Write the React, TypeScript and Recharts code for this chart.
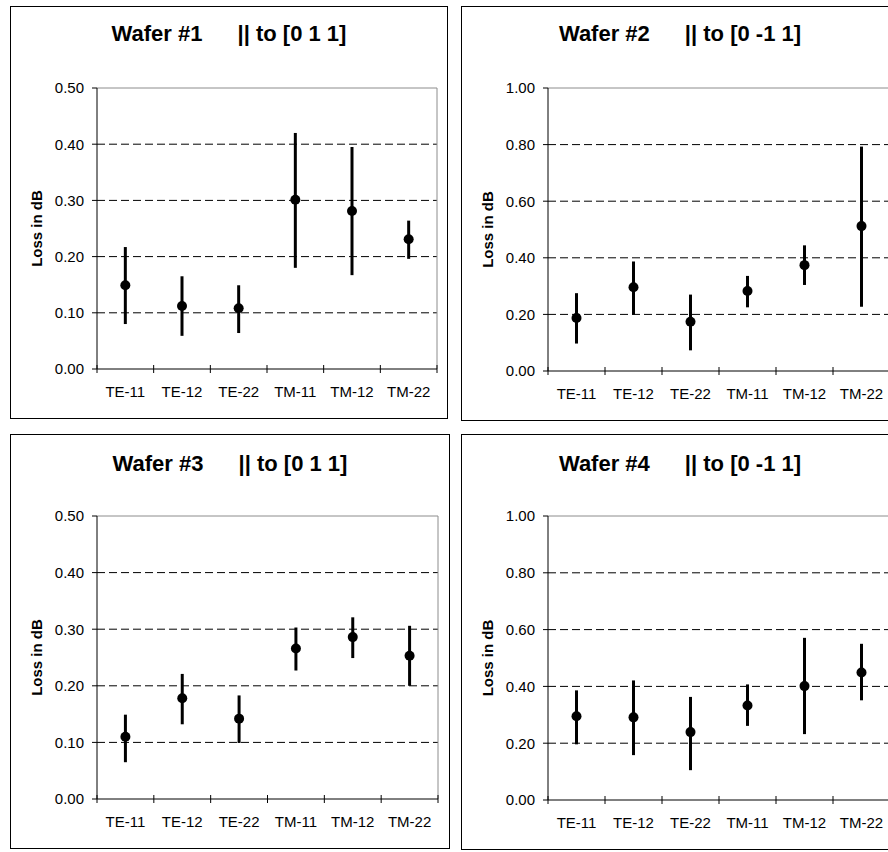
import React from 'react';
import {
  CartesianGrid,
  ErrorBar,
  Label,
  ReferenceLine,
  Scatter,
  ScatterChart,
  XAxis,
  YAxis,
} from 'recharts';

const categories = ['TE-11', 'TE-12', 'TE-22', 'TM-11', 'TM-12', 'TM-22'];

const waferNames = ['Wafer #1', 'Wafer #2', 'Wafer #3', 'Wafer #4'];
const orientations = ['|| to [0 1 1]', '|| to [0 -1 1]', '|| to [0 1 1]', '|| to [0 -1 1]'];

const wafer1Mean = [0.149, 0.112, 0.108, 0.301, 0.281, 0.231];
const wafer1Low = [0.08, 0.059, 0.064, 0.18, 0.167, 0.196];
const wafer1High = [0.217, 0.165, 0.149, 0.42, 0.395, 0.264];

const wafer2Mean = [0.187, 0.296, 0.174, 0.283, 0.374, 0.512];
const wafer2Low = [0.097, 0.199, 0.073, 0.225, 0.304, 0.227];
const wafer2High = [0.275, 0.387, 0.27, 0.336, 0.444, 0.793];

const wafer3Mean = [0.11, 0.178, 0.142, 0.266, 0.286, 0.253];
const wafer3Low = [0.065, 0.132, 0.099, 0.227, 0.249, 0.2];
const wafer3High = [0.149, 0.221, 0.183, 0.303, 0.321, 0.306];

const wafer4Mean = [0.295, 0.291, 0.239, 0.333, 0.401, 0.449];
const wafer4Low = [0.196, 0.158, 0.105, 0.261, 0.232, 0.351];
const wafer4High = [0.386, 0.421, 0.363, 0.407, 0.571, 0.55];

const yTicksSmall = [0, 0.1, 0.2, 0.3, 0.4, 0.5];
const yTicksLarge = [0, 0.2, 0.4, 0.6, 0.8, 1.0];

const FONT = "'Liberation Sans', Arial, Helvetica, sans-serif";
const N = categories.length;

// boundaries get a tick mark, half positions carry the category name
const xTicks = categories.flatMap((_, i) => [i, i + 0.5]).concat(N);

function CatTick(props: any) {
  const { x, y, payload } = props;
  const v = payload.value as number;
  if (Number.isInteger(v)) {
    return <line x1={x} x2={x} y1={y - 4} y2={y + 4} stroke="#000" strokeWidth={1} />;
  }
  return (
    <text x={x} y={y + 28} textAnchor="middle" fontSize={15} fontFamily={FONT} fill="#000">
      {categories[Math.floor(v)]}
    </text>
  );
}

function YLabel(props: any) {
  const vb = props.viewBox || {};
  const cx = (vb.x ?? 0) + 26;
  const cy = (vb.y ?? 0) + (vb.height ?? 0) / 2;
  return (
    <text
      x={cx}
      y={cy}
      transform={`rotate(-90, ${cx}, ${cy})`}
      textAnchor="middle"
      dominantBaseline="central"
      fontSize={15}
      fontWeight="bold"
      fontFamily={FONT}
      fill="#000"
    >
      Loss in dB
    </text>
  );
}

function Dot(props: any) {
  return <circle cx={props.cx} cy={props.cy} r={5} fill="#000" />;
}

function WaferPanel({
  idx,
  mean,
  low,
  high,
  yTicks,
  left,
  top,
  width,
  height,
  rightPad,
  titleY,
}: {
  idx: number;
  mean: number[];
  low: number[];
  high: number[];
  yTicks: number[];
  left: number;
  top: number;
  width: number;
  height: number;
  rightPad: number;
  titleY: number;
}) {
  const data = categories.map((c, i) => ({
    name: c,
    x: i + 0.5,
    y: mean[i],
    err: [mean[i] - low[i], high[i] - mean[i]],
  }));
  const yMax = yTicks[yTicks.length - 1];

  return (
    <div style={{ position: 'absolute', left, top, width, height }}>
      <div
        style={{
          position: 'absolute',
          left: 0,
          top: 0,
          width,
          height,
          border: '1.5px solid #000',
          boxSizing: 'border-box',
        }}
      />
      <div
        style={{
          position: 'absolute',
          left: 0,
          top: titleY - 11,
          width,
          textAlign: 'center',
          fontFamily: FONT,
          fontWeight: 'bold',
          fontSize: 22,
          lineHeight: '22px',
          whiteSpace: 'pre',
          color: '#000',
        }}
      >
        <span>{waferNames[idx]}</span>
        <span style={{ marginLeft: 35 }}>{orientations[idx]}</span>
      </div>
      <div style={{ position: 'absolute', left: 0, top: 0 }}>
        <ScatterChart width={width} height={height} margin={{ top: 82, right: rightPad, left: 0, bottom: 0 }}>
          <CartesianGrid
            vertical={false}
            horizontalValues={yTicks.slice(1, -1)}
            stroke="#000"
            strokeDasharray="8 4"
          />
          <XAxis
            type="number"
            dataKey="x"
            domain={[0, N]}
            ticks={xTicks}
            interval={0}
            tickSize={0}
            tickMargin={0}
            height={50}
            stroke="#000"
            tick={CatTick}
            tickLine={false}
          />
          <YAxis
            type="number"
            dataKey="y"
            domain={[0, yMax]}
            ticks={yTicks}
            interval={0}
            width={87}
            stroke="#000"
            tickSize={5}
            tickMargin={8}
            tickFormatter={(v: number) => v.toFixed(2)}
            tick={{ fill: '#000', fontSize: 15, fontFamily: FONT }}
          >
            <Label content={YLabel} />
          </YAxis>
          <ReferenceLine y={yMax} stroke="#8c8c8c" />
          <ReferenceLine x={N} stroke="#8c8c8c" />
          <Scatter data={data} dataKey="y" shape={Dot} isAnimationActive={false}>
            <ErrorBar
              dataKey="err"
              direction="y"
              width={0}
              strokeWidth={3}
              stroke="#000"
              isAnimationActive={false}
            />
          </Scatter>
        </ScatterChart>
      </div>
    </div>
  );
}

export default function App() {
  return (
    <div
      style={{
        position: 'fixed',
        left: 0,
        top: 0,
        width: 888,
        height: 852,
        overflow: 'hidden',
        background: '#fff',
      }}
    >
      <WaferPanel idx={0} mean={wafer1Mean} low={wafer1Low} high={wafer1High} yTicks={yTicksSmall}
        left={10} top={6} width={438} height={413} rightPad={11} titleY={28} />
      <WaferPanel idx={1} mean={wafer2Mean} low={wafer2Low} high={wafer2High} yTicks={yTicksLarge}
        left={461} top={6} width={438} height={415} rightPad={9} titleY={28} />
      <WaferPanel idx={2} mean={wafer3Mean} low={wafer3Low} high={wafer3High} yTicks={yTicksSmall}
        left={10} top={434} width={440} height={415} rightPad={12} titleY={30} />
      <WaferPanel idx={3} mean={wafer4Mean} low={wafer4Low} high={wafer4High} yTicks={yTicksLarge}
        left={461} top={434} width={438} height={416} rightPad={9} titleY={30} />
    </div>
  );
}
